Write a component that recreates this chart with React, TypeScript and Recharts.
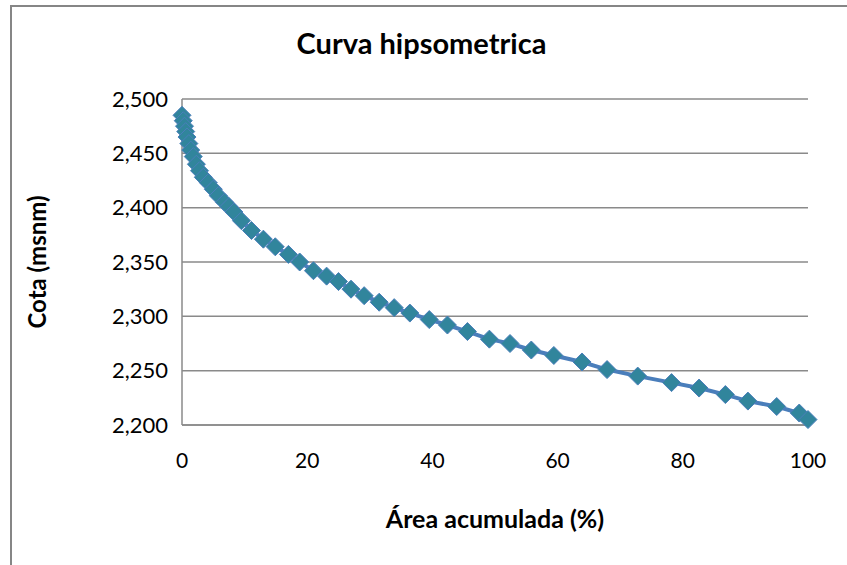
import { CartesianGrid, Line, LineChart, XAxis, YAxis, Label } from 'recharts'

const areaAcumulada = [
  0, 0.2, 0.4, 0.6, 0.8, 1.1, 1.4, 1.8, 2.3, 2.8, 3.4, 4.2, 5.0, 5.8, 6.8, 7.5,
  8.3, 9.5, 11.1, 13.0, 14.9, 17.0, 18.8, 21.0, 23.1, 25.0, 27.0, 29.1, 31.5,
  33.9, 36.4, 39.5, 42.4, 45.6, 49.1, 52.4, 55.8, 59.4, 63.9, 67.9, 72.8, 78.2,
  82.6, 86.8, 90.4, 95.0, 98.6, 100
]

const cota = [
  2485, 2480, 2475, 2470, 2465, 2459, 2453, 2447, 2440, 2434, 2428, 2423, 2417,
  2411, 2405, 2401, 2396, 2388, 2379, 2371, 2364, 2357, 2350, 2342, 2337, 2332,
  2325, 2319, 2313, 2308, 2303, 2297, 2292, 2286, 2279, 2275, 2269, 2264, 2258,
  2251, 2245, 2239, 2234, 2228, 2222, 2217, 2211, 2205
]

const xTicks = [0, 20, 40, 60, 80, 100]
const yTicks = [2200, 2250, 2300, 2350, 2400, 2450, 2500]

const data = areaAcumulada.map((area, i) => ({ area, cota: cota[i] }))

const FONT = 'Lato, "Liberation Sans", sans-serif'
const GRID = '#8a8a8a'

function Diamond(props: any) {
  const { cx, cy } = props
  if (cx == null || cy == null) return null
  const r = 9
  return (
    <polygon
      points={`${cx},${cy - r} ${cx + r},${cy} ${cx},${cy + r} ${cx - r},${cy}`}
      fill="#31859c"
      stroke="#4a7ebb"
      strokeWidth={1}
    />
  )
}

export default function App() {
  return (
    <div
      style={{
        position: 'absolute',
        left: 0,
        top: 0,
        width: 847,
        height: 565,
        background: '#fff',
        overflow: 'hidden',
        fontFamily: FONT
      }}
    >
      <div
        style={{
          position: 'absolute',
          left: 10,
          top: 5,
          width: 900,
          height: 600,
          borderLeft: '2px solid #868686',
          borderTop: '2px solid #868686'
        }}
      />
      <div
        style={{
          position: 'absolute',
          left: 0,
          width: 847,
          top: 25,
          textAlign: 'center',
          fontSize: 29,
          fontWeight: 700
        }}
      >
        <span style={{ position: 'relative', left: -2 }}>Curva hipsometrica</span>
      </div>
      <div style={{ position: 'absolute', left: 0, top: 0 }}>
        <LineChart
          width={847}
          height={565}
          data={data}
          margin={{ top: 99, right: 39, left: 102, bottom: 95 }}
        >
          <CartesianGrid horizontal vertical={false} stroke={GRID} strokeWidth={1.5} />
          <XAxis
            dataKey="area"
            type="number"
            domain={[0, 100]}
            ticks={xTicks}
            tickLine={false}
            axisLine={{ stroke: GRID, strokeWidth: 1.5 }}
            tick={{ fontSize: 21, fill: '#000', fontFamily: FONT }}
            tickMargin={22}
            height={45}
          >
            <Label
              value="Área acumulada (%)"
              position="insideBottom"
              offset={-58}
              style={{ fontSize: 25, fontWeight: 700, fill: '#000', fontFamily: FONT }}
            />
          </XAxis>
          <YAxis
            dataKey="cota"
            type="number"
            domain={[2200, 2500]}
            ticks={yTicks}
            tickFormatter={(v) => Number(v).toLocaleString('en-US')}
            tickLine={false}
            axisLine={{ stroke: GRID, strokeWidth: 1.5 }}
            tick={{ fontSize: 22, fill: '#000', fontFamily: FONT }}
            tickMargin={8}
            width={80}
          >
            <Label
              value="Cota (msnm)"
              angle={-90}
              position="insideLeft"
              offset={-65}
              style={{ fontSize: 24, fontWeight: 700, fill: '#000', fontFamily: FONT, textAnchor: 'middle' }}
            />
          </YAxis>
          <Line
            dataKey="cota"
            stroke="#4a7ebb"
            strokeWidth={4}
            dot={<Diamond />}
            activeDot={false}
            isAnimationActive={false}
          />
        </LineChart>
      </div>
    </div>
  )
}
